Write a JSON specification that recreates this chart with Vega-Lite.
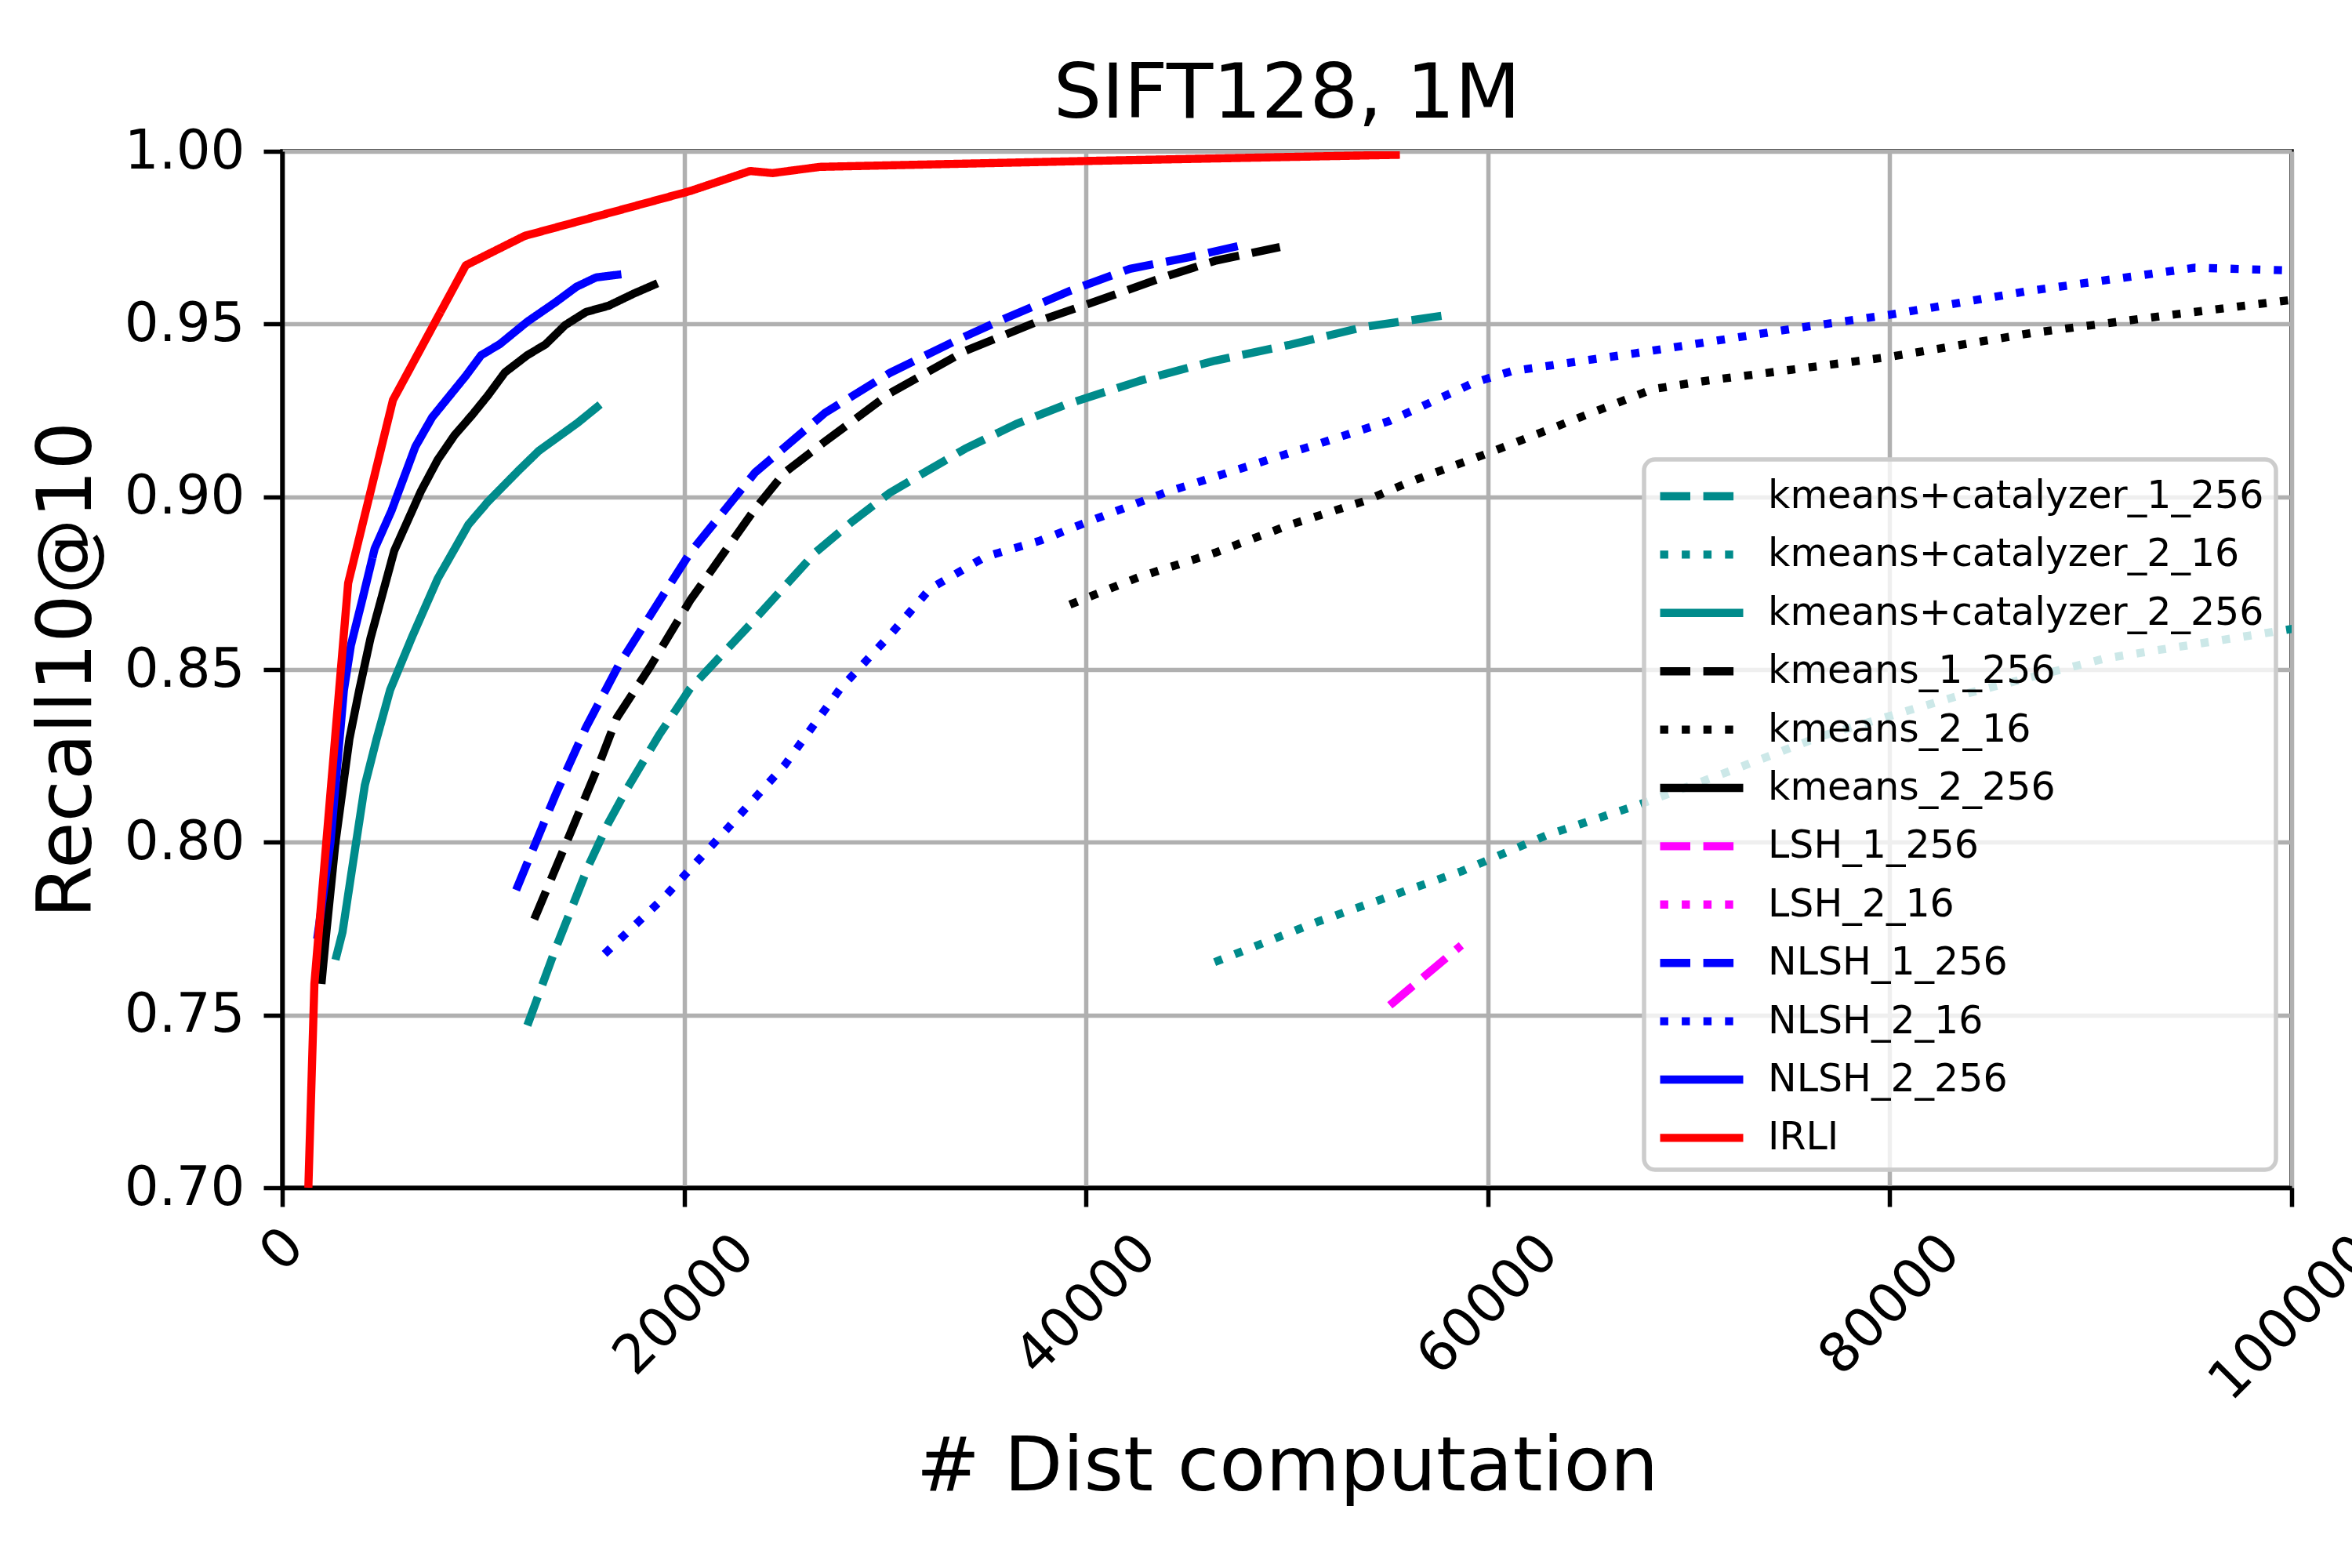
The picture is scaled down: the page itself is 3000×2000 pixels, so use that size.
{
  "$schema": "https://vega.github.io/schema/vega-lite/v6.json",
  "width": 2563,
  "height": 1322,
  "autosize": {"type": "none"},
  "padding": {"left": 360, "top": 193, "right": 77, "bottom": 485},
  "background": "white",
  "title": {
    "text": "SIFT128, 1M",
    "font": "DejaVu Sans",
    "fontSize": 97,
    "fontWeight": "normal",
    "color": "black",
    "anchor": "middle",
    "frame": "group",
    "baseline": "alphabetic",
    "offset": 40,
    "dy": 128
  },
  "data": {
    "values": [
      {"m": "kmeans+catalyzer_1_256", "x": 12200, "y": 0.747},
      {"m": "kmeans+catalyzer_1_256", "x": 13590, "y": 0.769},
      {"m": "kmeans+catalyzer_1_256", "x": 15260, "y": 0.7935},
      {"m": "kmeans+catalyzer_1_256", "x": 16240, "y": 0.8057},
      {"m": "kmeans+catalyzer_1_256", "x": 17210, "y": 0.816},
      {"m": "kmeans+catalyzer_1_256", "x": 18750, "y": 0.831},
      {"m": "kmeans+catalyzer_1_256", "x": 20300, "y": 0.8445},
      {"m": "kmeans+catalyzer_1_256", "x": 23280, "y": 0.863},
      {"m": "kmeans+catalyzer_1_256", "x": 26520, "y": 0.8838},
      {"m": "kmeans+catalyzer_1_256", "x": 28400, "y": 0.893},
      {"m": "kmeans+catalyzer_1_256", "x": 30250, "y": 0.9012},
      {"m": "kmeans+catalyzer_1_256", "x": 33980, "y": 0.9139},
      {"m": "kmeans+catalyzer_1_256", "x": 36500, "y": 0.921},
      {"m": "kmeans+catalyzer_1_256", "x": 38950, "y": 0.9266},
      {"m": "kmeans+catalyzer_1_256", "x": 42690, "y": 0.9336},
      {"m": "kmeans+catalyzer_1_256", "x": 46420, "y": 0.9394},
      {"m": "kmeans+catalyzer_1_256", "x": 50150, "y": 0.944},
      {"m": "kmeans+catalyzer_1_256", "x": 53880, "y": 0.9492},
      {"m": "kmeans+catalyzer_1_256", "x": 57740, "y": 0.9524},

      {"m": "kmeans+catalyzer_2_16", "x": 46400, "y": 0.7653},
      {"m": "kmeans+catalyzer_2_16", "x": 51570, "y": 0.7771},
      {"m": "kmeans+catalyzer_2_16", "x": 58680, "y": 0.7916},
      {"m": "kmeans+catalyzer_2_16", "x": 62950, "y": 0.8021},
      {"m": "kmeans+catalyzer_2_16", "x": 67580, "y": 0.811},
      {"m": "kmeans+catalyzer_2_16", "x": 72000, "y": 0.8205},
      {"m": "kmeans+catalyzer_2_16", "x": 76480, "y": 0.8305},
      {"m": "kmeans+catalyzer_2_16", "x": 83590, "y": 0.8427},
      {"m": "kmeans+catalyzer_2_16", "x": 90710, "y": 0.8532},
      {"m": "kmeans+catalyzer_2_16", "x": 100500, "y": 0.8622},

      {"m": "kmeans+catalyzer_2_256", "x": 2650, "y": 0.766},
      {"m": "kmeans+catalyzer_2_256", "x": 3000, "y": 0.774},
      {"m": "kmeans+catalyzer_2_256", "x": 3415, "y": 0.79},
      {"m": "kmeans+catalyzer_2_256", "x": 4110, "y": 0.8165},
      {"m": "kmeans+catalyzer_2_256", "x": 4700, "y": 0.83},
      {"m": "kmeans+catalyzer_2_256", "x": 5370, "y": 0.8441},
      {"m": "kmeans+catalyzer_2_256", "x": 6480, "y": 0.8597},
      {"m": "kmeans+catalyzer_2_256", "x": 7735, "y": 0.8763},
      {"m": "kmeans+catalyzer_2_256", "x": 8430, "y": 0.8834},
      {"m": "kmeans+catalyzer_2_256", "x": 9270, "y": 0.892},
      {"m": "kmeans+catalyzer_2_256", "x": 10240, "y": 0.8986},
      {"m": "kmeans+catalyzer_2_256", "x": 11780, "y": 0.9077},
      {"m": "kmeans+catalyzer_2_256", "x": 12770, "y": 0.9133},
      {"m": "kmeans+catalyzer_2_256", "x": 14700, "y": 0.9214},
      {"m": "kmeans+catalyzer_2_256", "x": 15820, "y": 0.9267},

      {"m": "kmeans_1_256", "x": 12540, "y": 0.7777},
      {"m": "kmeans_1_256", "x": 14150, "y": 0.8},
      {"m": "kmeans_1_256", "x": 15820, "y": 0.8234},
      {"m": "kmeans_1_256", "x": 16650, "y": 0.836},
      {"m": "kmeans_1_256", "x": 18330, "y": 0.851},
      {"m": "kmeans_1_256", "x": 20300, "y": 0.87},
      {"m": "kmeans_1_256", "x": 23530, "y": 0.8965},
      {"m": "kmeans_1_256", "x": 25000, "y": 0.907},
      {"m": "kmeans_1_256", "x": 27010, "y": 0.916},
      {"m": "kmeans_1_256", "x": 30250, "y": 0.93},
      {"m": "kmeans_1_256", "x": 33980, "y": 0.9422},
      {"m": "kmeans_1_256", "x": 37710, "y": 0.951},
      {"m": "kmeans_1_256", "x": 40200, "y": 0.956},
      {"m": "kmeans_1_256", "x": 43930, "y": 0.9637},
      {"m": "kmeans_1_256", "x": 46420, "y": 0.9683},
      {"m": "kmeans_1_256", "x": 49650, "y": 0.9723},

      {"m": "kmeans_2_16", "x": 39200, "y": 0.8688},
      {"m": "kmeans_2_16", "x": 42690, "y": 0.8769},
      {"m": "kmeans_2_16", "x": 46420, "y": 0.8838},
      {"m": "kmeans_2_16", "x": 50150, "y": 0.8919},
      {"m": "kmeans_2_16", "x": 53880, "y": 0.8988},
      {"m": "kmeans_2_16", "x": 56150, "y": 0.9044},
      {"m": "kmeans_2_16", "x": 60000, "y": 0.9126},
      {"m": "kmeans_2_16", "x": 64580, "y": 0.923},
      {"m": "kmeans_2_16", "x": 68230, "y": 0.9312},
      {"m": "kmeans_2_16", "x": 70760, "y": 0.9335},
      {"m": "kmeans_2_16", "x": 80000, "y": 0.9405},
      {"m": "kmeans_2_16", "x": 87050, "y": 0.9474},
      {"m": "kmeans_2_16", "x": 94070, "y": 0.9527},
      {"m": "kmeans_2_16", "x": 100000, "y": 0.957},

      {"m": "kmeans_2_256", "x": 1950, "y": 0.759},
      {"m": "kmeans_2_256", "x": 2160, "y": 0.772},
      {"m": "kmeans_2_256", "x": 2650, "y": 0.8},
      {"m": "kmeans_2_256", "x": 3345, "y": 0.83},
      {"m": "kmeans_2_256", "x": 3830, "y": 0.844},
      {"m": "kmeans_2_256", "x": 4390, "y": 0.859},
      {"m": "kmeans_2_256", "x": 5575, "y": 0.8844},
      {"m": "kmeans_2_256", "x": 6900, "y": 0.9016},
      {"m": "kmeans_2_256", "x": 7735, "y": 0.9107},
      {"m": "kmeans_2_256", "x": 8570, "y": 0.9178},
      {"m": "kmeans_2_256", "x": 9480, "y": 0.9239},
      {"m": "kmeans_2_256", "x": 10245, "y": 0.9294},
      {"m": "kmeans_2_256", "x": 11080, "y": 0.936},
      {"m": "kmeans_2_256", "x": 12200, "y": 0.941},
      {"m": "kmeans_2_256", "x": 13100, "y": 0.9441},
      {"m": "kmeans_2_256", "x": 14080, "y": 0.9497},
      {"m": "kmeans_2_256", "x": 15120, "y": 0.9535},
      {"m": "kmeans_2_256", "x": 16240, "y": 0.9553},
      {"m": "kmeans_2_256", "x": 17490, "y": 0.9588},
      {"m": "kmeans_2_256", "x": 18676, "y": 0.9618},

      {"m": "LSH_1_256", "x": 55120, "y": 0.7528},
      {"m": "LSH_1_256", "x": 58680, "y": 0.7702},

      {"m": "NLSH_1_256", "x": 11640, "y": 0.7862},
      {"m": "NLSH_1_256", "x": 13590, "y": 0.8136},
      {"m": "NLSH_1_256", "x": 15120, "y": 0.8333},
      {"m": "NLSH_1_256", "x": 16720, "y": 0.851},
      {"m": "NLSH_1_256", "x": 19440, "y": 0.876},
      {"m": "NLSH_1_256", "x": 20300, "y": 0.8838},
      {"m": "NLSH_1_256", "x": 23530, "y": 0.907},
      {"m": "NLSH_1_256", "x": 27010, "y": 0.9243},
      {"m": "NLSH_1_256", "x": 30250, "y": 0.9359},
      {"m": "NLSH_1_256", "x": 33480, "y": 0.9451},
      {"m": "NLSH_1_256", "x": 35720, "y": 0.951},
      {"m": "NLSH_1_256", "x": 39200, "y": 0.9596},
      {"m": "NLSH_1_256", "x": 42190, "y": 0.966},
      {"m": "NLSH_1_256", "x": 45170, "y": 0.9694},
      {"m": "NLSH_1_256", "x": 47660, "y": 0.9727},

      {"m": "NLSH_2_16", "x": 16040, "y": 0.7677},
      {"m": "NLSH_2_16", "x": 19000, "y": 0.784},
      {"m": "NLSH_2_16", "x": 22000, "y": 0.803},
      {"m": "NLSH_2_16", "x": 25025, "y": 0.8225},
      {"m": "NLSH_2_16", "x": 27760, "y": 0.8444},
      {"m": "NLSH_2_16", "x": 30250, "y": 0.86},
      {"m": "NLSH_2_16", "x": 32240, "y": 0.8734},
      {"m": "NLSH_2_16", "x": 34975, "y": 0.8826},
      {"m": "NLSH_2_16", "x": 37710, "y": 0.8873},
      {"m": "NLSH_2_16", "x": 40200, "y": 0.893},
      {"m": "NLSH_2_16", "x": 43930, "y": 0.9012},
      {"m": "NLSH_2_16", "x": 47660, "y": 0.9081},
      {"m": "NLSH_2_16", "x": 51390, "y": 0.915},
      {"m": "NLSH_2_16", "x": 55120, "y": 0.922},
      {"m": "NLSH_2_16", "x": 59300, "y": 0.933},
      {"m": "NLSH_2_16", "x": 61210, "y": 0.9364},
      {"m": "NLSH_2_16", "x": 67390, "y": 0.9416},
      {"m": "NLSH_2_16", "x": 75810, "y": 0.9492},
      {"m": "NLSH_2_16", "x": 80000, "y": 0.9527},
      {"m": "NLSH_2_16", "x": 87050, "y": 0.9597},
      {"m": "NLSH_2_16", "x": 95200, "y": 0.9663},
      {"m": "NLSH_2_16", "x": 100000, "y": 0.9655},

      {"m": "NLSH_2_256", "x": 1740, "y": 0.772},
      {"m": "NLSH_2_256", "x": 2400, "y": 0.8},
      {"m": "NLSH_2_256", "x": 3068, "y": 0.844},
      {"m": "NLSH_2_256", "x": 3417, "y": 0.857},
      {"m": "NLSH_2_256", "x": 3975, "y": 0.87},
      {"m": "NLSH_2_256", "x": 4600, "y": 0.885},
      {"m": "NLSH_2_256", "x": 5440, "y": 0.896},
      {"m": "NLSH_2_256", "x": 6625, "y": 0.9145},
      {"m": "NLSH_2_256", "x": 7460, "y": 0.923},
      {"m": "NLSH_2_256", "x": 9135, "y": 0.935},
      {"m": "NLSH_2_256", "x": 9900, "y": 0.941},
      {"m": "NLSH_2_256", "x": 10810, "y": 0.9441},
      {"m": "NLSH_2_256", "x": 12200, "y": 0.9507},
      {"m": "NLSH_2_256", "x": 13600, "y": 0.9563},
      {"m": "NLSH_2_256", "x": 14644, "y": 0.9608},
      {"m": "NLSH_2_256", "x": 15620, "y": 0.9635},
      {"m": "NLSH_2_256", "x": 16876, "y": 0.9644},

      {"m": "IRLI", "x": 1300, "y": 0.7},
      {"m": "IRLI", "x": 1600, "y": 0.759},
      {"m": "IRLI", "x": 3280, "y": 0.875},
      {"m": "IRLI", "x": 5510, "y": 0.928},
      {"m": "IRLI", "x": 9135, "y": 0.967},
      {"m": "IRLI", "x": 12060, "y": 0.9755},
      {"m": "IRLI", "x": 20300, "y": 0.9885},
      {"m": "IRLI", "x": 23284, "y": 0.9943},
      {"m": "IRLI", "x": 24400, "y": 0.9937},
      {"m": "IRLI", "x": 26766, "y": 0.9955},
      {"m": "IRLI", "x": 40000, "y": 0.9972},
      {"m": "IRLI", "x": 55620, "y": 0.999}
    ]
  },
  "mark": {
    "type": "line",
    "clip": true,
    "strokeWidth": 10.4,
    "strokeCap": "butt",
    "strokeJoin": "round"
  },
  "encoding": {
    "x": {
      "field": "x",
      "type": "quantitative",
      "scale": {"domain": [0, 100000], "nice": false, "zero": false},
      "axis": {
        "title": "# Dist computation",
        "values": [0, 20000, 40000, 60000, 80000, 100000],
        "format": "d",
        "labelAngle": -45,
        "labelAlign": "center",
        "labelBaseline": "middle",
        "labelFlush": false,
        "labelOverlap": false,
        "labelPadding": {
          "condition": [
            {"test": "datum.value == 0", "value": 55},
            {"test": "datum.value == 100000", "value": 142}
          ],
          "value": 125
        },
        "titleY": 385,
        "titleBaseline": "alphabetic"
      }
    },
    "y": {
      "field": "y",
      "type": "quantitative",
      "scale": {"domain": [0.7, 1.0], "nice": false, "zero": false},
      "axis": {
        "title": "Recall10@10",
        "values": [0.7, 0.75, 0.8, 0.85, 0.9, 0.95, 1.0],
        "format": ".2f",
        "labelPadding": 24,
        "titleAngle": -90,
        "titleAlign": "center",
        "titleBaseline": "middle",
        "titleX": -274,
        "titleY": 661
      }
    },
    "color": {
      "field": "m",
      "type": "nominal",
      "scale": {
        "domain": ["kmeans+catalyzer_1_256", "kmeans+catalyzer_2_16", "kmeans+catalyzer_2_256", "kmeans_1_256", "kmeans_2_16", "kmeans_2_256", "LSH_1_256", "LSH_2_16", "NLSH_1_256", "NLSH_2_16", "NLSH_2_256", "IRLI"],
        "range": ["#008b8b", "#008b8b", "#008b8b", "#000000", "#000000", "#000000", "#ff00ff", "#ff00ff", "#0000ff", "#0000ff", "#0000ff", "#ff0000"]
      },
      "legend": {
        "title": null,
        "orient": "none",
        "legendX": 1737,
        "legendY": 393
      }
    },
    "strokeDash": {
      "field": "m",
      "type": "nominal",
      "scale": {
        "domain": ["kmeans+catalyzer_1_256", "kmeans+catalyzer_2_16", "kmeans+catalyzer_2_256", "kmeans_1_256", "kmeans_2_16", "kmeans_2_256", "LSH_1_256", "LSH_2_16", "NLSH_1_256", "NLSH_2_16", "NLSH_2_256", "IRLI"],
        "range": [[38.5, 16.6], [10.4, 17.2], [1, 0], [38.5, 16.6], [10.4, 17.2], [1, 0], [38.5, 16.6], [10.4, 17.2], [38.5, 16.6], [10.4, 17.2], [1, 0], [1, 0]]
      },
      "legend": {
        "title": null,
        "orient": "none",
        "legendX": 1737,
        "legendY": 393
      }
    }
  },
  "config": {
    "font": "DejaVu Sans",
    "view": {"stroke": "black", "strokeWidth": 5.5},
    "axis": {
      "labelFont": "DejaVu Sans",
      "labelFontSize": 69,
      "labelColor": "black",
      "titleFont": "DejaVu Sans",
      "titleFontSize": 97,
      "titleFontWeight": "normal",
      "titleColor": "black",
      "tickSize": 24,
      "tickWidth": 5.5,
      "tickColor": "black",
      "domainColor": "black",
      "domainWidth": 5.5,
      "grid": true,
      "gridColor": "#b0b0b0",
      "gridWidth": 5.5,
      "gridOpacity": 1,
      "labelLimit": 1000
    },
    "legend": {
      "fillColor": "rgba(255,255,255,0.8)",
      "strokeColor": "#cccccc",
      "strokeWidth": 5.5,
      "cornerRadius": 14,
      "padding": 15,
      "labelFont": "DejaVu Sans",
      "labelFontSize": 49,
      "labelColor": "black",
      "labelLimit": 1000,
      "labelOffset": 79,
      "symbolType": "M-1,0H3",
      "symbolSize": 2809,
      "symbolStrokeWidth": 10.4,
      "symbolOpacity": 1,
      "rowPadding": 17.4,
      "columns": 1
    }
  }
}
